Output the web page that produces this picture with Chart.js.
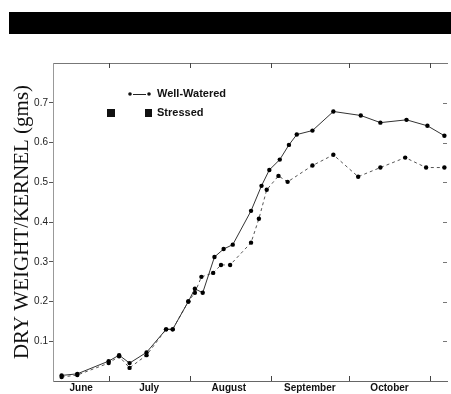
<!DOCTYPE html>
<html lang="en">
<head>
  <meta charset="UTF-8" />
  <title>Dry weight per kernel</title>
  <script src="https://cdn.jsdelivr.net/npm/chart.js"></script>
  <style>
    html, body { margin: 0; padding: 0; background: #fff; }
    #wrap { width: 451px; height: 394px; position: relative; }
  </style>
</head>
<body>
  <div id="wrap"><canvas id="myChart" width="451" height="394"></canvas></div>

  <script>
    // days counted from June 1 (day 0)
    const wwDays = [12, 18, 30, 34, 38, 44.5, 52, 54.5, 60.5, 63, 66, 70.5, 74, 77.5, 84.5, 88.5, 91.5, 95.5, 99, 102, 108, 116, 126.5, 134, 144, 152, 158.5];
    const wwValues = [0.014, 0.018, 0.05, 0.065, 0.045, 0.072, 0.13, 0.13, 0.2, 0.232, 0.222, 0.312, 0.332, 0.343, 0.428, 0.491, 0.531, 0.557, 0.594, 0.62, 0.63, 0.678, 0.668, 0.65, 0.657, 0.642, 0.617];

    const stDays = [12, 18, 30, 34, 38, 44.5, 52, 54.5, 60.5, 63, 65.5, 70, 73, 76.5, 84.5, 87.5, 90.5, 95, 98.5, 108, 116, 125.5, 134, 143.5, 151.5, 158.5];
    const stValues = [0.01, 0.015, 0.045, 0.062, 0.033, 0.065, 0.13, 0.13, 0.2, 0.222, 0.262, 0.272, 0.292, 0.292, 0.348, 0.408, 0.481, 0.516, 0.501, 0.542, 0.569, 0.514, 0.537, 0.562, 0.537, 0.537];

    const monthNames = ['June', 'July', 'August', 'September', 'October'];
    const monthLabelDays = [19.5, 45.5, 76, 107, 137.5];
    const monthEdges = [30, 61, 92, 122, 153];
    const yTicks = [0.1, 0.2, 0.3, 0.4, 0.5, 0.6, 0.7];

    const xMin = 8.7, xMax = 159.5;

    function toPoints(xs, ys) {
      return xs.map((d, i) => ({ x: d, y: ys[i] }));
    }

    // black bar, month tick marks, right-hand ticks and the legend
    const decor = {
      id: 'decor',
      afterDraw(chart) {
        const ctx = chart.ctx;
        const x = chart.scales.x;
        const y = chart.scales.y;
        const a = chart.chartArea;
        ctx.save();
        ctx.fillStyle = '#000';
        ctx.fillRect(9, 12, 442, 22);

        ctx.strokeStyle = '#444';
        ctx.lineWidth = 1;
        monthEdges.forEach(d => {
          const px = Math.round(x.getPixelForValue(d)) + 0.5;
          ctx.beginPath();
          ctx.moveTo(px, a.bottom);
          ctx.lineTo(px, a.bottom - 5);
          ctx.moveTo(px, a.top);
          ctx.lineTo(px, a.top + 5);
          ctx.stroke();
        });
        ctx.strokeStyle = '#777';
        yTicks.forEach(v => {
          const py = Math.round(y.getPixelForValue(v)) + 0.5;
          ctx.beginPath();
          ctx.moveTo(a.right - 4, py);
          ctx.lineTo(a.right, py);
          ctx.stroke();
        });

        // legend
        ctx.fillStyle = '#111';
        ctx.beginPath(); ctx.arc(130, 94, 1.8, 0, Math.PI * 2); ctx.fill();
        ctx.beginPath(); ctx.arc(149, 94, 1.8, 0, Math.PI * 2); ctx.fill();
        ctx.strokeStyle = '#222';
        ctx.beginPath(); ctx.moveTo(133, 94.5); ctx.lineTo(146, 94.5); ctx.stroke();
        ctx.fillRect(107, 109, 8, 8);
        ctx.fillRect(145, 109, 7, 8);
        ctx.font = 'bold 11px "Liberation Sans"';
        ctx.textBaseline = 'middle';
        ctx.fillText('Well-Watered', 157, 94);
        ctx.fillText('Stressed', 157, 113);
        ctx.restore();
      }
    };

    const ctx = document.getElementById('myChart').getContext('2d');
    new Chart(ctx, {
      type: 'line',
      data: {
        datasets: [
          {
            label: 'Well-Watered',
            data: toPoints(wwDays, wwValues),
            borderColor: '#333',
            borderWidth: 1,
            pointRadius: 2.2,
            pointBackgroundColor: '#000',
            pointBorderWidth: 0,
            tension: 0
          },
          {
            label: 'Stressed',
            data: toPoints(stDays, stValues),
            borderColor: '#555',
            borderWidth: 1,
            borderDash: [3, 3],
            pointRadius: 2.2,
            pointBackgroundColor: '#000',
            pointBorderWidth: 0,
            tension: 0
          }
        ]
      },
      plugins: [decor],
      options: {
        responsive: false,
        animation: false,
        layout: { padding: { top: 0, right: 1, bottom: 0, left: 0 } },
        plugins: { legend: { display: false }, tooltip: { enabled: false } },
        scales: {
          x: {
            type: 'linear',
            position: 'bottom',
            min: xMin,
            max: xMax,
            afterBuildTicks: s => { s.ticks = monthLabelDays.map(v => ({ value: v })); },
            afterFit: s => { s.height = 13; },
            ticks: {
              autoSkip: false,
              maxRotation: 0,
              padding: 1,
              color: '#111',
              font: { family: 'Liberation Sans', size: 10, weight: 'bold' },
              callback: (v, i) => monthNames[i]
            },
            grid: { display: false, drawTicks: false },
            border: { display: true, color: '#666', width: 1 }
          },
          xTop: {
            type: 'linear',
            position: 'top',
            min: xMin,
            max: xMax,
            afterFit: s => { s.height = 63; },
            ticks: { display: false },
            grid: { display: false, drawTicks: false },
            border: { display: true, color: '#777', width: 1, dash: [18, 10] }
          },
          y: {
            min: 0,
            max: 0.8,
            afterBuildTicks: s => { s.ticks = yTicks.map(v => ({ value: v })); },
            afterFit: s => { s.width = 53; },
            ticks: {
              padding: 1,
              color: '#222',
              font: { family: 'Liberation Sans', size: 10 },
              callback: v => v.toFixed(1)
            },
            grid: { drawOnChartArea: false, drawTicks: true, tickLength: 4, color: '#555' },
            border: { display: true, color: '#999', width: 1, dash: [2, 2] },
            title: {
              display: true,
              text: 'DRY WEIGHT/KERNEL (gms)',
              color: '#111',
              padding: { top: 10, bottom: 0 },
              font: { family: 'Liberation Serif', size: 21 }
            }
          }
        }
      }
    });
  </script>
</body>
</html>
